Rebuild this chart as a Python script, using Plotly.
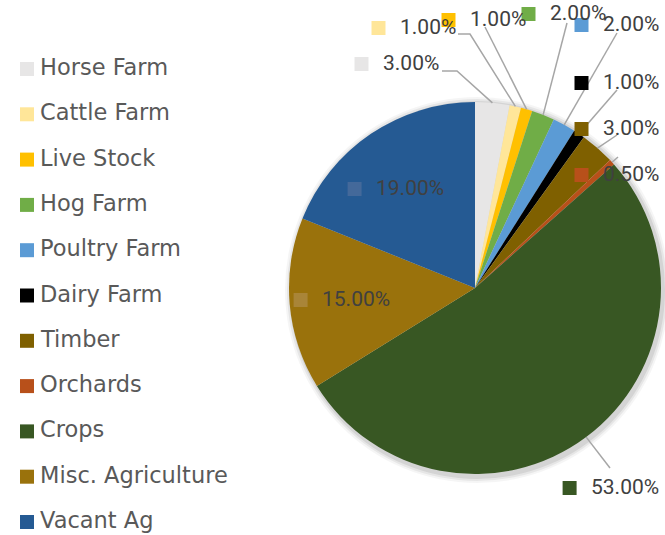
import math
import plotly.graph_objects as go

# ---- data ----
categories = ["Horse Farm", "Cattle Farm", "Live Stock", "Hog Farm", "Poultry Farm",
              "Dairy Farm", "Timber", "Orchards", "Crops", "Misc. Agriculture", "Vacant Ag"]
values = [3.0, 1.0, 1.0, 2.0, 2.0, 1.0, 3.0, 0.5, 53.0, 15.0, 19.0]
value_labels = ["3.00%", "1.00%", "1.00%", "2.00%", "2.00%", "1.00%", "3.00%",
                "0.50%", "53.00%", "15.00%", "19.00%"]
colors = ["#E7E6E6", "#FFE699", "#FFC000", "#70AD47", "#5B9BD5", "#000000",
          "#7F6000", "#B8501A", "#385723", "#9A720C", "#255A93"]
# lighter tones used for keys drawn on top of their own slice
key_on_slice = ["#E7E6E6", "#FFE699", "#FFC000", "#70AD47", "#5B9BD5", "#000000",
                "#7F6000", "#B8501A", "#385723", "#A98538", "#44699A"]

# ---- layout constants (pixels) ----
W, H = 665, 535
CX, CY, R = 475, 288, 186

def px(x):
    return x / W

def py(y):
    return 1 - y / H

# label text centre positions (px)
label_pos = [(411, 63), (428, 27), (498, 19), (578, 13), (631, 24), (631, 82),
             (631, 128), (631, 174), (625, 487), (356, 299), (410, 188)]
inside = [False] * 9 + [True, True]
# leader line start points (px); None = no leader
leader_start = [[(442, 71), (457, 71)], [(458, 34), (470, 34)], [(485, 27)], [(567, 23)],
                [(617, 33)], [(617, 90)], [(617, 135)], [(618, 157)], [(610, 468)],
                None, None]

fig = go.Figure()
fig.add_trace(go.Pie(
    labels=categories, values=values, sort=False, direction="clockwise",
    rotation=0, textinfo="none", hoverinfo="label+percent",
    marker=dict(colors=colors, line=dict(width=0)),
    domain=dict(x=[px(CX - R), px(CX + R)], y=[py(CY + R), py(CY - R)]),
    showlegend=False,
))

shapes = []
annotations = []

# soft shadow under the pie
for k, op in [(6, 0.04), (4, 0.06), (2, 0.08)]:
    shapes.append(dict(type="circle", xref="paper", yref="paper", layer="below",
                       x0=px(CX - R + 2 - k), x1=px(CX + R + 2 + k),
                       y0=py(CY + R + 3 + k), y1=py(CY - R + 1 - k),
                       fillcolor="rgba(0,0,0,%.2f)" % op, line=dict(width=0)))


def key_square(x0, yc, color):
    shapes.append(dict(type="rect", xref="paper", yref="paper",
                       x0=px(x0), x1=px(x0 + 14), y0=py(yc + 7), y1=py(yc - 7),
                       fillcolor=color, line=dict(width=0)))


# leader lines and labels
total = sum(values)
cum = 0.0
for i, v in enumerate(values):
    mid = (cum + v / 2) / total * 2 * math.pi
    cum += v
    ex = CX + R * math.sin(mid)
    ey = CY - R * math.cos(mid)
    if leader_start[i] is not None:
        pts = leader_start[i] + [(ex, ey)]
        path = "M " + " L ".join("%f,%f" % (px(a), py(b)) for a, b in pts)
        shapes.append(dict(type="path", xref="paper", yref="paper", path=path,
                           line=dict(color="#A6A6A6", width=1.5)))
    lx, ly = label_pos[i]
    annotations.append(dict(x=px(lx), y=py(ly), xref="paper", yref="paper",
                            text=value_labels[i], showarrow=False,
                            xanchor="center", yanchor="middle",
                            font=dict(family="Roboto", size=21, color="#404040")))
    tw = 11.8 * len(value_labels[i]) - 2
    key_square(lx - tw / 2 - 28, ly + 1, key_on_slice[i] if inside[i] else colors[i])

# manual legend
for i, c in enumerate(categories):
    ty = 67 + 45.3 * i
    key_square(20, ty + 2, colors[i])
    annotations.append(dict(x=px(38), y=py(ty), xref="paper", yref="paper",
                            text=c, showarrow=False, xanchor="left", yanchor="middle",
                            font=dict(family="DejaVu Sans", size=22.5, color="#595959")))

fig.update_layout(
    width=W, height=H, margin=dict(l=0, r=0, t=0, b=0),
    paper_bgcolor="white", plot_bgcolor="white",
    shapes=shapes, annotations=annotations,
)

fig.write_html("out.html", config={"displayModeBar": False},
               post_script="document.body.style.margin='0';document.body.style.overflow='hidden';")
